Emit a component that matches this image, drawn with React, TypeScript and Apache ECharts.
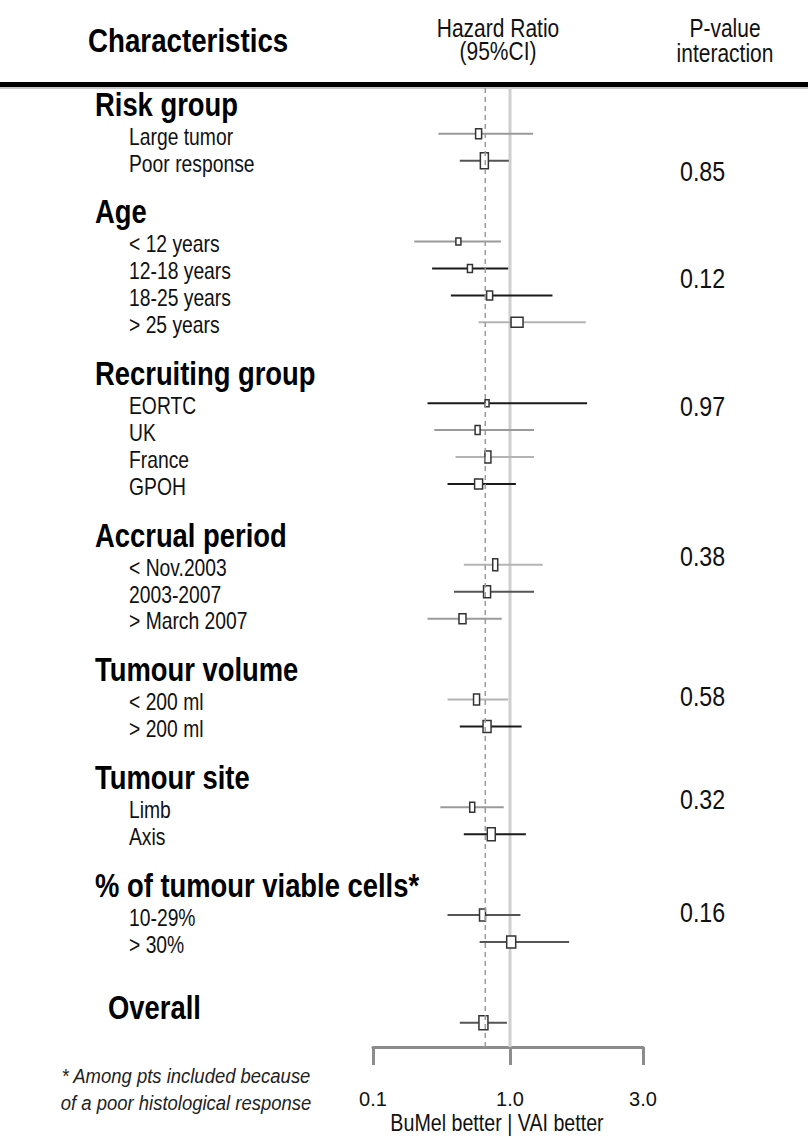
import React, { useEffect, useRef } from "react";
import * as echarts from "echarts";

// ---------------- DATA ----------------
const groupNames = [
  "Risk group",
  "Age",
  "Recruiting group",
  "Accrual period",
  "Tumour volume",
  "Tumour site",
  "% of tumour viable cells*",
];
const subgroupLabels = [
  ["Large tumor", "Poor response"],
  ["< 12 years", "12-18 years", "18-25 years", "> 25 years"],
  ["EORTC", "UK", "France", "GPOH"],
  ["< Nov.2003", "2003-2007", "> March 2007"],
  ["< 200 ml", "> 200 ml"],
  ["Limb", "Axis"],
  ["10-29%", "> 30%"],
];
const hrEstimate = [
  [0.59, 0.65],
  [0.42, 0.51, 0.71, 1.06],
  [0.68, 0.58, 0.69, 0.59],
  [0.78, 0.68, 0.45],
  [0.57, 0.68],
  [0.53, 0.73],
  [0.63, 1.01],
];
const ciLower = [
  [0.3, 0.43],
  [0.2, 0.27, 0.37, 0.59],
  [0.25, 0.28, 0.4, 0.35],
  [0.46, 0.39, 0.25],
  [0.35, 0.43],
  [0.31, 0.46],
  [0.35, 0.6],
];
const ciUpper = [
  [1.21, 0.98],
  [0.86, 0.97, 1.42, 1.87],
  [1.89, 1.22, 1.22, 1.05],
  [1.31, 1.22, 0.87],
  [0.97, 1.1],
  [0.9, 1.14],
  [1.09, 1.63],
];
const pInteraction = ["0.85", "0.12", "0.97", "0.38", "0.58", "0.32", "0.16"];
const overallLabel = "Overall";
const overallHR = 0.64;
const overallLower = 0.43;
const overallUpper = 0.95;
const referenceHR = 0.66; // dashed reference line (overall effect)
const nullHR = 1.0;
const axisTickValues = [0.1, 1.0, 3.0];
const axisTickLabels = ["0.1", "1.0", "3.0"];

// ---------------- LAYOUT / STYLE ----------------
const FONT = "'Liberation Sans', Arial, sans-serif";
const shadeColors = ["#9a9a9a", "#1a1a1a", "#555555", "#b4b4b4"];
const ciShade = [
  [0, 2],
  [0, 1, 1, 3],
  [1, 0, 3, 1],
  [3, 2, 0],
  [3, 1],
  [0, 1],
  [2, 2],
];
const overallShade = 2;
const boxW = [
  [6, 8],
  [5, 5, 6, 12],
  [4, 5, 6, 8],
  [5, 7, 7],
  [6, 8],
  [5, 8],
  [6, 9],
];
const boxH = [
  [10, 16],
  [7, 8, 9, 10],
  [7, 9, 12, 10],
  [12, 12, 10],
  [11, 12],
  [10, 13],
  [12, 12],
];
const overallBox = [9, 14];
const pValueOffset = [2.4, 2.35, 1.1, 0.7, 0.9, 0.7, 0.9];
const overallHeaderShift = 0.45;

// piecewise scale: 0.1 -> 0, 1.0 -> 137, 3.0 -> 270
function pos(v: number): number {
  return v <= 1 ? (Math.log10(v) + 1) * 137 : 137 + (Math.log(v) / Math.log(3)) * 133;
}

type RowLabel = { y: number; text: string; kind: "h" | "i" | "o" };

function buildOption() {
  const leftLabels: RowLabel[] = [];
  const pLabels: { y: number; text: string }[] = [];
  const ciData: number[][] = [];
  let slot = 0;
  groupNames.forEach((g, gi) => {
    leftLabels.push({ y: slot - 0.1, text: g, kind: "h" });
    pLabels.push({ y: slot + pValueOffset[gi], text: pInteraction[gi] });
    slot++;
    subgroupLabels[gi].forEach((s, si) => {
      leftLabels.push({ y: slot + 0.1, text: s, kind: "i" });
      ciData.push([
        pos(ciLower[gi][si]),
        pos(ciUpper[gi][si]),
        pos(hrEstimate[gi][si]),
        slot,
        ciShade[gi][si],
        boxW[gi][si],
        boxH[gi][si],
      ]);
      slot++;
    });
    slot++;
  });
  leftLabels.push({ y: slot + overallHeaderShift, text: overallLabel, kind: "o" });
  slot++;
  ciData.push([
    pos(overallLower),
    pos(overallUpper),
    pos(overallHR),
    slot,
    overallShade,
    overallBox[0],
    overallBox[1],
  ]);

  const yMin = -0.7;
  const yMax = 34.9;

  const labelStyle = {
    h: { size: 33, weight: "bold", dx: -278, sx: 0.83, color: "#000" },
    i: { size: 23, weight: "normal", dx: -244, sx: 0.84, color: "#111" },
    o: { size: 33, weight: "bold", dx: -265, sx: 0.83, color: "#000" },
  } as const;

  return {
    animation: false,
    backgroundColor: "#ffffff",
    grid: { left: 373, right: 165, top: 88, bottom: 90, containLabel: false },
    xAxis: {
      type: "value",
      min: 0,
      max: 270,
      splitLine: { show: false },
      axisLine: { show: true, onZero: false, lineStyle: { color: "#8c8c8c", width: 3 } },
      axisTick: {
        show: true,
        customValues: axisTickValues.map(pos),
        length: 18,
        lineStyle: { color: "#8c8c8c", width: 3 },
      },
      axisLabel: {
        customValues: axisTickValues.map(pos),
        margin: 42,
        fontFamily: FONT,
        fontSize: 20,
        color: "#111",
        formatter: (v: number) => {
          const i = axisTickValues.findIndex((t) => Math.abs(pos(t) - v) < 1e-6);
          return i >= 0 ? axisTickLabels[i] : "";
        },
      },
    },
    yAxis: {
      type: "value",
      inverse: true,
      min: yMin,
      max: yMax,
      show: false,
    },
    graphic: [
      { type: "rect", left: 0, top: 82, shape: { width: 808, height: 5 }, style: { fill: "#000" } },
      { type: "rect", left: 0, top: 87, shape: { width: 808, height: 2 }, style: { fill: "#c8c8c8" } },
      {
        type: "text",
        x: 88,
        y: 40,
        scaleX: 0.84,
        style: {
          text: "Characteristics",
          fontFamily: FONT,
          fontSize: 33,
          fontWeight: "bold",
          fill: "#000",
          align: "left",
          verticalAlign: "middle",
        },
      },
      {
        type: "text",
        x: 498,
        y: 40,
        scaleX: 0.84,
        style: {
          text: "Hazard Ratio\n(95%CI)",
          fontFamily: FONT,
          fontSize: 25,
          lineHeight: 23,
          fill: "#111",
          align: "center",
          verticalAlign: "middle",
        },
      },
      {
        type: "text",
        x: 725,
        y: 41,
        scaleX: 0.84,
        style: {
          text: "P-value\ninteraction",
          fontFamily: FONT,
          fontSize: 25,
          lineHeight: 25,
          fill: "#111",
          align: "center",
          verticalAlign: "middle",
        },
      },
      {
        type: "text",
        x: 497,
        y: 1123,
        scaleX: 0.855,
        style: {
          text: "BuMel better | VAI better",
          fontFamily: FONT,
          fontSize: 23,
          fill: "#111",
          align: "center",
          verticalAlign: "middle",
        },
      },
      {
        type: "text",
        x: 186,
        y: 1089,
        scaleX: 0.88,
        style: {
          text: "* Among pts included because\nof a poor histological response",
          fontFamily: FONT,
          fontSize: 21,
          lineHeight: 27,
          fontStyle: "italic",
          fill: "#222",
          align: "center",
          verticalAlign: "middle",
        },
      },
    ],
    series: [
      {
        type: "custom",
        name: "null line",
        z: 1,
        silent: true,
        data: [[pos(nullHR), 0]],
        encode: { x: 0, y: 1 },
        renderItem: (params: any, api: any) => {
          const x = api.coord([api.value(0), 0])[0];
          const cs = params.coordSys;
          return {
            type: "line",
            shape: { x1: x, y1: cs.y, x2: x, y2: cs.y + cs.height },
            style: { stroke: "#cfcfcf", lineWidth: 3 },
          };
        },
      },
      {
        type: "custom",
        name: "hazard ratios",
        z: 2,
        silent: true,
        data: ciData,
        encode: { x: [0, 1, 2], y: 3 },
        renderItem: (params: any, api: any) => {
          const y = api.value(3);
          const lo = api.coord([api.value(0), y]);
          const hi = api.coord([api.value(1), y]);
          const est = api.coord([api.value(2), y]);
          const color = shadeColors[api.value(4)];
          const bw = api.value(5);
          const bh = api.value(6);
          return {
            type: "group",
            children: [
              {
                type: "line",
                shape: { x1: lo[0], y1: lo[1], x2: hi[0], y2: hi[1] },
                style: { stroke: color, lineWidth: 2 },
              },
              {
                type: "rect",
                shape: { x: est[0] - bw / 2, y: est[1] - bh / 2, width: bw, height: bh },
                style: { fill: "#ffffff", stroke: "#333333", lineWidth: 1.5 },
              },
            ],
          };
        },
      },
      {
        type: "custom",
        name: "reference line",
        z: 3,
        silent: true,
        data: [[pos(referenceHR), 0]],
        encode: { x: 0, y: 1 },
        renderItem: (params: any, api: any) => {
          const x = api.coord([api.value(0), 0])[0];
          const cs = params.coordSys;
          return {
            type: "line",
            shape: { x1: x, y1: cs.y, x2: x, y2: cs.y + cs.height },
            style: { stroke: "#9a9a9a", lineWidth: 1.5, lineDash: [5, 4] },
          };
        },
      },
      {
        type: "custom",
        name: "row labels",
        z: 4,
        silent: true,
        clip: false,
        data: leftLabels.map((l, i) => [0, l.y, i]),
        encode: { x: 0, y: 1 },
        renderItem: (params: any, api: any) => {
          const lab = leftLabels[api.value(2)];
          const st = labelStyle[lab.kind];
          const y = api.coord([0, api.value(1)])[1];
          return {
            type: "text",
            x: params.coordSys.x + st.dx,
            y,
            scaleX: st.sx,
            style: {
              text: lab.text,
              fontFamily: FONT,
              fontSize: st.size,
              fontWeight: st.weight,
              fill: st.color,
              align: "left",
              verticalAlign: "middle",
            },
          };
        },
      },
      {
        type: "custom",
        name: "p-values",
        z: 4,
        silent: true,
        clip: false,
        data: pLabels.map((l, i) => [0, l.y, i]),
        encode: { x: 0, y: 1 },
        renderItem: (params: any, api: any) => {
          const lab = pLabels[api.value(2)];
          const y = api.coord([0, api.value(1)])[1];
          return {
            type: "text",
            x: params.coordSys.x + params.coordSys.width + 37,
            y,
            scaleX: 0.86,
            style: {
              text: lab.text,
              fontFamily: FONT,
              fontSize: 27,
              fill: "#111",
              align: "left",
              verticalAlign: "middle",
            },
          };
        },
      },
    ],
  };
}

export default function App() {
  const ref = useRef<HTMLDivElement>(null);
  useEffect(() => {
    if (!ref.current) return;
    const chart = echarts.init(ref.current, undefined, { renderer: "svg" });
    chart.setOption(buildOption() as any);
    return () => chart.dispose();
  }, []);
  return (
    <div
      ref={ref}
      style={{ position: "fixed", left: 0, top: 0, width: 808, height: 1137, background: "#fff" }}
    />
  );
}
